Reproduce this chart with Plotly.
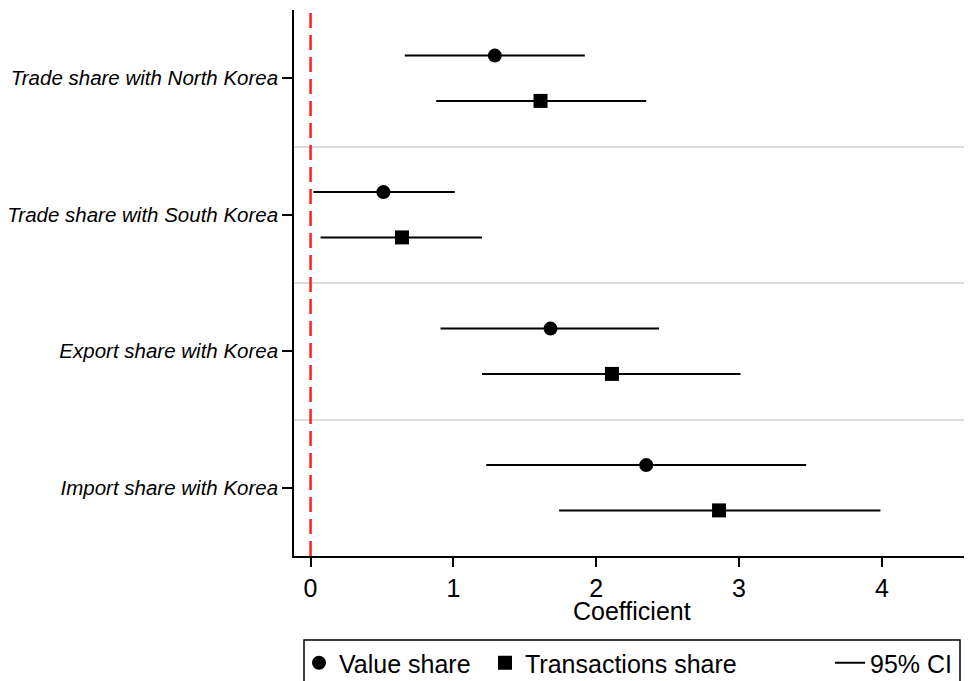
import plotly.graph_objects as go

# ---- data ----
categories = ["Trade share with North Korea", "Trade share with South Korea",
              "Export share with Korea", "Import share with Korea"]
value_coef = [1.29, 0.51, 1.68, 2.35]
value_lo = [0.66, 0.02, 0.91, 1.23]
value_hi = [1.92, 1.01, 2.44, 3.47]
trans_coef = [1.61, 0.64, 2.11, 2.86]
trans_lo = [0.88, 0.07, 1.20, 1.74]
trans_hi = [2.35, 1.20, 3.01, 3.99]
x_ticks = [0, 1, 2, 3, 4]

OFF = 0.166
pos = list(range(len(categories)))
y_val = [p - OFF for p in pos]
y_tr = [p + OFF for p in pos]

FONT = "Liberation Sans, Arial, sans-serif"

ci_x, ci_y = [], []
for lo, hi, y in zip(value_lo, value_hi, y_val):
    ci_x += [lo, hi, None]
    ci_y += [y, y, None]
for lo, hi, y in zip(trans_lo, trans_hi, y_tr):
    ci_x += [lo, hi, None]
    ci_y += [y, y, None]

fig = go.Figure()
fig.add_trace(go.Scatter(x=ci_x, y=ci_y, mode="lines", name="95% CI",
                         line=dict(color="black", width=2), legend="legend3"))
fig.add_trace(go.Scatter(x=value_coef, y=y_val, mode="markers", name="Value share",
                         marker=dict(symbol="circle", size=14, color="black"),
                         legend="legend"))
fig.add_trace(go.Scatter(x=trans_coef, y=y_tr, mode="markers", name="Transactions share",
                         marker=dict(symbol="square", size=14, color="black"),
                         legend="legend2"))

# page body has an 8px default margin: work in screen pixels, shift by 8
OFS = 8
W, H = 964, 681
L, R, T = 294 - OFS, 3, 10 - OFS
B = H - (556 - OFS)
pw, ph = W - L - R, H - T - B

def px_x(p):
    return (p - OFS - L) / pw

def px_y(p):
    return (H - B - (p - OFS)) / ph

def cx(p):
    return (p - OFS) / W

def cy(p):
    return (H - (p - OFS)) / H

fig.add_vline(x=0, line=dict(color="#ff2020", width=2.5, dash="15px,7px"))
fig.add_shape(type="rect", xref="paper", yref="paper",
              x0=px_x(304), x1=px_x(960), y0=px_y(700), y1=px_y(640),
              line=dict(color="black", width=1.5, dash="solid"),
              fillcolor="rgba(0,0,0,0)")
fig.add_annotation(text="Coefficient", xref="paper", yref="paper", x=0.5,
                   y=px_y(611), xanchor="center", yanchor="middle", showarrow=False,
                   font=dict(family=FONT, size=25, color="black"))

leg_common = dict(orientation="h", yanchor="middle", y=cy(663), xanchor="left",
                  xref="container", yref="container",
                  font=dict(family=FONT, size=25, color="black"),
                  bgcolor="rgba(0,0,0,0)", borderwidth=0)

fig.update_layout(
    width=W, height=H,
    margin=dict(l=L, r=R, t=T, b=B, autoexpand=False),
    plot_bgcolor="white", paper_bgcolor="white",
    font=dict(family=FONT, color="black"),
    showlegend=True,
    legend=dict(x=cx(299), **leg_common),
    legend2=dict(x=cx(485), **leg_common),
    legend3=dict(x=cx(830), **leg_common),
    xaxis=dict(range=[-0.116, 4.61], tickvals=x_ticks, ticks="outside", ticklen=9,
               tickwidth=1.5, tickcolor="black", showline=True, linecolor="black",
               linewidth=1.5, showgrid=False, zeroline=False,
               tickfont=dict(family=FONT, size=25, color="black")),
    yaxis=dict(range=[3.5, -0.5], tickvals=pos,
               ticktext=["<i>%s</i>" % c for c in categories],
               ticks="outside", ticklen=10, tickwidth=1.5, tickcolor="black",
               showline=True, linecolor="black", linewidth=1.5, showgrid=False,
               zeroline=False, tickfont=dict(family=FONT, size=20.5, color="black"),
               minor=dict(tickmode="array", tickvals=[0.5, 1.5, 2.5], showgrid=True,
                          gridcolor="#dcdcdc", gridwidth=2, ticks="")),
)

fig.write_html("out.html")
